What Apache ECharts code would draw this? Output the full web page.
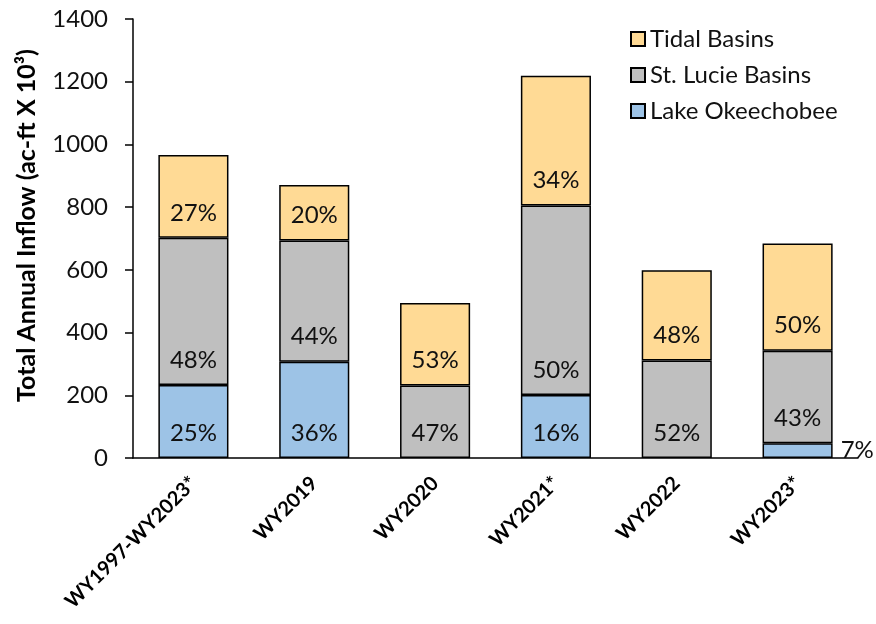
<!DOCTYPE html>
<html>
<head>
<meta charset="utf-8">
<script src="https://cdn.jsdelivr.net/npm/echarts@6/dist/echarts.min.js"></script>
<style>html,body{margin:0;padding:0;background:#fff}#c{width:876px;height:624px}</style>
</head>
<body>
<div id="c"></div>
<script>
const categories = ['WY1997-WY2023*', 'WY2019', 'WY2020', 'WY2021*', 'WY2022', 'WY2023*'];
const lakeValues = [233, 307, null, 201, null, 47];
const stLucieValues = [469, 387, 231, 604, 311, 295];
const tidalValues = [264, 177, 263, 414, 288, 342];
const lakePct = ['25%', '36%', '', '16%', '', '7%'];
const stLuciePct = ['48%', '44%', '47%', '50%', '52%', '43%'];
const tidalPct = ['27%', '20%', '53%', '34%', '48%', '50%'];
const yTicks = [0, 200, 400, 600, 800, 1000, 1200, 1400];

const FONT = 'Lato';
const chart = echarts.init(document.getElementById('c'), null, {renderer: 'canvas'});

function makeData(values) {
  return values.map(v => {
    if (v === null) return {value: '-'};
    const item = {value: v};
    if (v < 100) {
      item.label = {position: 'right', distance: 8};
    }
    return item;
  });
}
function makeSeries(name, values, pcts, color) {
  return {
    name: name,
    type: 'bar',
    stack: 'total',
    barWidth: '58%',
    data: makeData(values),
    itemStyle: {color: color, borderColor: '#000', borderWidth: 1.5},
    label: {
      show: true,
      position: 'insideBottom',
      distance: 13,
      fontFamily: FONT,
      fontSize: 24,
      color: '#111',
      formatter: p => pcts[p.dataIndex]
    }
  };
}

chart.setOption({
  animation: false,
  backgroundColor: '#fff',
  grid: {left: 133, right: 18, top: 19, bottom: 166, containLabel: false},
  legend: {
    orient: 'vertical',
    left: 625,
    top: 22,
    itemWidth: 14,
    itemHeight: 14,
    itemGap: 12,
    icon: 'rect',
    data: ['Tidal Basins', 'St. Lucie Basins', 'Lake Okeechobee'],
    itemStyle: {borderColor: '#000', borderWidth: 2},
    textStyle: {fontFamily: FONT, fontSize: 24, color: '#111'}
  },
  xAxis: {
    type: 'category',
    data: categories,
    axisLine: {lineStyle: {color: '#000', width: 1.5}},
    axisTick: {alignWithLabel: true, length: 6, lineStyle: {color: '#000', width: 1.5}},
    axisLabel: {
      rotate: 45,
      margin: 22,
      interval: 0,
      fontFamily: FONT,
      fontWeight: 'bold',
      fontSize: 20,
      color: '#000'
    }
  },
  yAxis: {
    type: 'value',
    min: yTicks[0],
    max: yTicks[yTicks.length - 1],
    interval: 200,
    name: 'Total Annual Inflow (ac-ft X 10³)',
    nameLocation: 'middle',
    nameGap: 94,
    nameTextStyle: {fontFamily: FONT, fontWeight: 'bold', fontSize: 25, color: '#000', padding: [0, 0, 0, 26]},
    axisLine: {show: true, lineStyle: {color: '#000', width: 1.5}},
    axisTick: {show: true, inside: false, length: 8, lineStyle: {color: '#000', width: 1.5}},
    splitLine: {show: false},
    axisLabel: {margin: 25, fontFamily: FONT, fontSize: 24, color: '#111', formatter: v => String(v)}
  },
  series: [
    makeSeries('Lake Okeechobee', lakeValues, lakePct, '#9DC3E6'),
    makeSeries('St. Lucie Basins', stLucieValues, stLuciePct, '#BFBFBF'),
    makeSeries('Tidal Basins', tidalValues, tidalPct, '#FFDA95')
  ]
});
</script>
</body>
</html>
